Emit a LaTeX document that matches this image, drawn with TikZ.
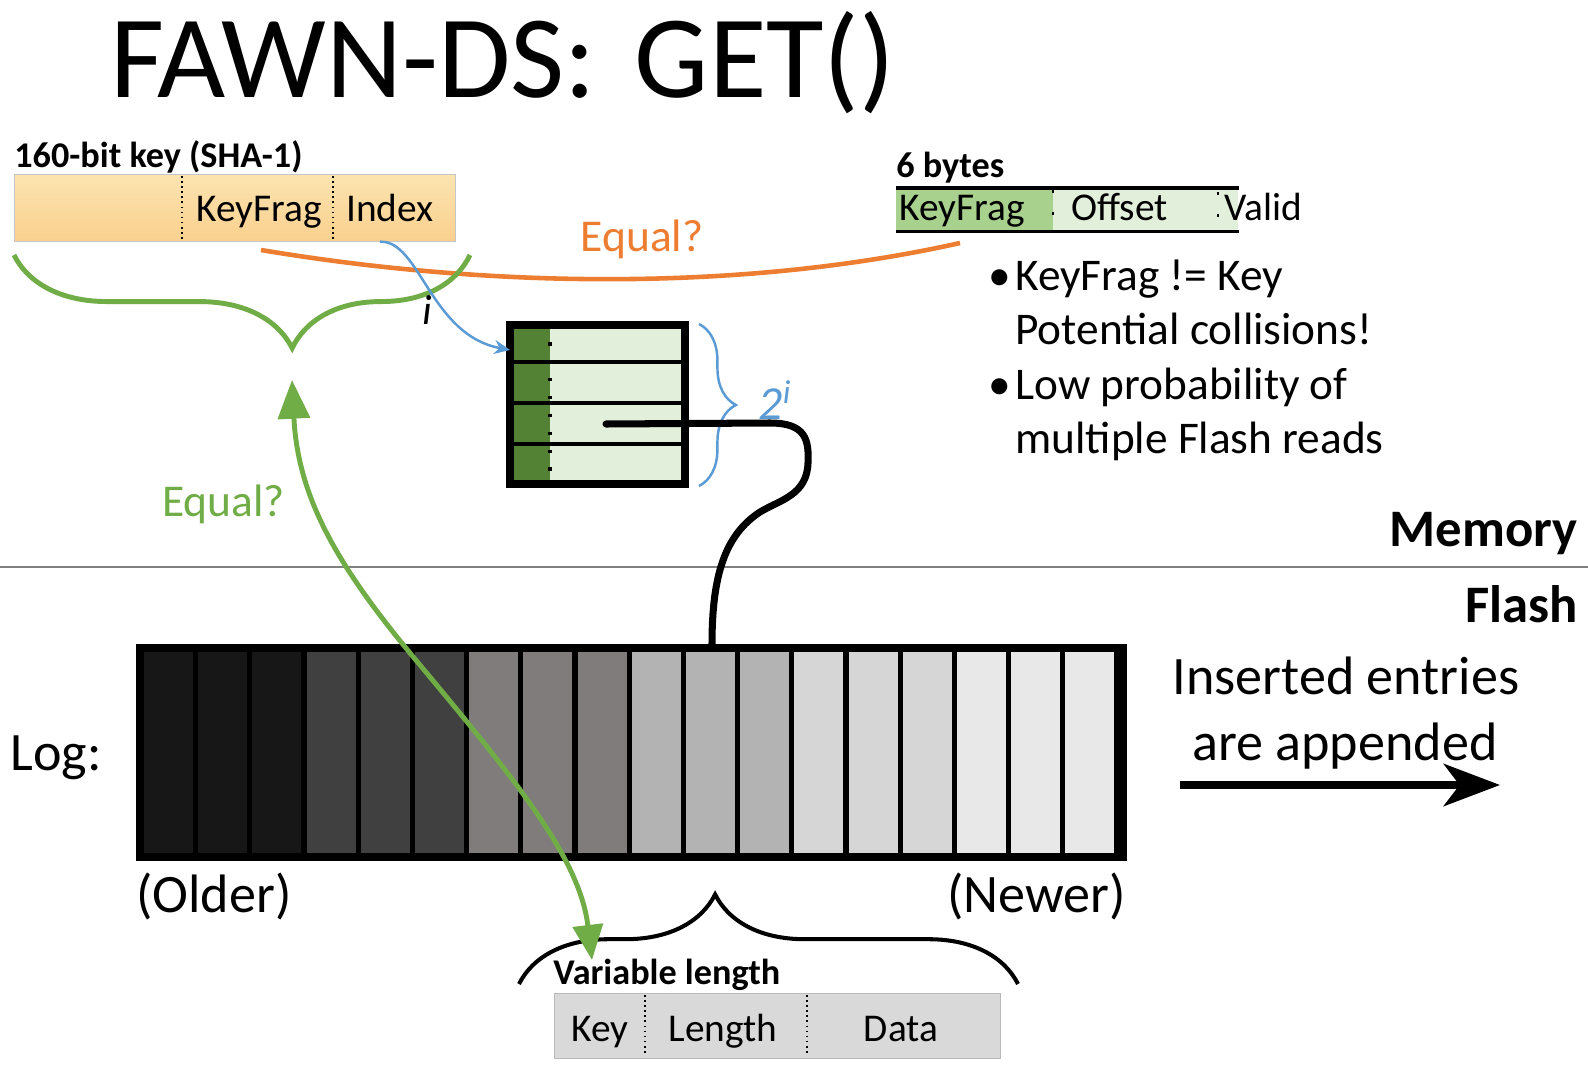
\documentclass[tikz,border=0pt]{standalone}
\usepackage{fontspec}
\setmainfont{Carlito}
\usetikzlibrary{positioning,arrows.meta,decorations.pathreplacing}
\definecolor{keytop}{RGB}{252,228,176}
\definecolor{keybot}{RGB}{249,208,142}
\definecolor{eqorange}{RGB}{237,125,49}
\definecolor{eqgreen}{RGB}{112,173,71}
\definecolor{idxblue}{RGB}{91,155,213}
\definecolor{fragdark}{RGB}{84,130,53}
\definecolor{fragmid}{RGB}{169,209,142}
\definecolor{fraglight}{RGB}{226,239,218}
\definecolor{recgray}{RGB}{217,217,217}
\definecolor{logc0}{RGB}{23,23,23}
\definecolor{logc1}{RGB}{64,64,64}
\definecolor{logc2}{RGB}{127,124,123}
\definecolor{logc3}{RGB}{180,179,180}
\definecolor{logc4}{RGB}{214,214,214}
\definecolor{logc5}{RGB}{232,232,232}

\begin{document}
\begin{tikzpicture}[
        x=0.02cm, y=-0.02cm,
        field/.style={font=\fontsize{22.4}{26}\selectfont, inner sep=0pt},
        hdr/.style={font=\fontsize{20.6}{24}\selectfont\bfseries, inner sep=0pt, anchor=base west},
        big/.style={font=\fontsize{30.8}{36}\selectfont, inner sep=0pt},
        bul/.style={font=\fontsize{25.8}{30}\selectfont, inner sep=0pt, anchor=base west},
        divider/.style={dotted, line width=0.9pt},
        cable/.style={line width=4pt, line cap=round}
    ]
        \useasboundingbox[fill=white] (0,0) rectangle (1588,1084);

        % Title
        \node[font=\fontsize{67}{80}\selectfont, inner sep=0pt, anchor=base west] (title) at (110,98) {FAWN-DS:\hspace{0.33em}GET()};

        % Key
        \node[hdr] (keyhdr) at (14,168) {160-bit key (SHA-1)};
        \node[draw=gray!45, top color=keytop, bottom color=keybot, minimum width=8.82cm, minimum height=1.34cm, inner sep=0pt, anchor=north west] (key) at (14,174) {};
        \draw[divider] (182,176) -- (182,240);
        \draw[divider] (333,176) -- (333,240);
        \node[field, anchor=base] (kfrag) at (259,222) {KeyFrag};
        \node[field, anchor=base] (kidx) at (390,222) {Index};

        % Hash entry format
        \node[hdr] (bytes) at (896,178) {6 bytes};
        \node[fill=fraglight, minimum width=6.84cm, minimum height=0.86cm, inner sep=0pt, anchor=north west] (entry) at (896,188) {};
        \fill[fragmid] (896,188) rectangle (1053,231);
        \draw[line width=1.8pt] (entry.north west) -- (entry.north east);
        \draw[line width=1.8pt] (entry.south west) -- (entry.south east);
        \draw[line width=1.6pt, dash pattern=on 1.6pt off 11pt] (1053,190) -- (1053,231);
        \draw[line width=1.6pt, dash pattern=on 1.6pt off 11pt] (1218,192) -- (1218,224);
        \node[field, anchor=base west] (efrag) at (899,221) {KeyFrag};
        \node[field, anchor=base west] (eoff) at (1071,221) {Offset};
        \node[field, anchor=base west] (evalid) at (1224,221) {Valid};

        % Orange compare
        \coordinate (cmpA) at (261,250);
        \coordinate (cmpB) at (960,243);
        \draw[eqorange, line width=2.6pt] (cmpA) .. controls (500,290) and (750,290) .. (cmpB);
        \node[text=eqorange, font=\fontsize{25.9}{30}\selectfont, inner sep=0pt, anchor=base] (eqtop) at (642,252) {Equal?};

        % Bullets
        \node[bul] (b1) at (988,291) {•};
        \node[bul] (l1) at (1015,291) {KeyFrag != Key};
        \node[bul] (l2) at (1015,344) {Potential collisions!};
        \node[bul] (b2) at (988,399) {•};
        \node[bul] (l3) at (1015,399) {Low probability of};
        \node[bul] (l4) at (1015,453) {multiple Flash reads};

        % Green brace under key
        \draw[eqgreen, line width=2.8pt, decorate, decoration={brace, amplitude=53pt, aspect=0.39}] (470,255) -- (14,255);
        \coordinate (bracetip) at (292,380);

        % Hash table
        \node[draw, line width=4.5pt, fill=fraglight, minimum width=3.5cm, minimum height=3.18cm, inner sep=0pt, outer sep=0pt, anchor=north west,
            path picture={\fill[fragdark] (path picture bounding box.north west) rectangle ([xshift=0.8cm]path picture bounding box.south west);}] (table) at (510,325) {};
        \foreach \y in {362,403,444}
            \draw[line width=2.3pt] (510,\y) -- (685,\y);
        \draw[line width=2pt, dash pattern=on 2pt off 8.2pt] (550,342) -- (550,478);
        \draw[idxblue, line width=1.4pt, decorate, decoration={brace, amplitude=21pt}] (699,324) -- (699,486);
        \node[text=idxblue, font=\fontsize{27}{30}\selectfont\itshape, inner sep=0pt] (pow) at (775,400) {2\textsuperscript{i}};

        % Index -> table
        \draw[idxblue, line width=1.4pt, -{Stealth[length=9pt, width=8pt]}] (key.south -| 380,0) .. controls (420,240) and (430,335) .. (table.north west |- 0,350);
        \node[font=\fontsize{24}{28}\selectfont\itshape, inner sep=0pt] (ilab) at (427,310) {i};

        % Memory / Flash
        \draw[gray, line width=1.2pt] (0,567) -- (1588,567);
        \node[font=\fontsize{30}{36}\selectfont\bfseries, inner sep=0pt, anchor=base east] (mem) at (1578,546) {Memory};
        \node[font=\fontsize{30}{36}\selectfont\bfseries, inner sep=0pt, anchor=base east] (flash) at (1578,622) {Flash};

        % Log
        \node[fill=black, minimum width=19.82cm, minimum height=4.34cm, inner sep=0pt, anchor=north west] (log) at (136,644) {};
        \foreach \i in {0,...,17} {
            \pgfmathtruncatemacro\g{\i/3}
            \pgfmathsetmacro\cx{144+\i*54.2}
            \fill[logc\g] (\cx,652) rectangle ++(49,201);
        }
        \node[big, anchor=base west] (loglab) at (10,770) {Log:};
        \node[big, anchor=base west] (older) at (136,912) {(Older)};
        \node[big, anchor=base east] (newer) at (1126,912) {(Newer)};
        \node[big, anchor=base] (ins1) at (1346,694) {Inserted entries};
        \node[big, anchor=base] (ins2) at (1345,760) {are appended};
        \coordinate (appS) at (1180,785);
        \coordinate (appE) at (1500,785);
        \draw[line width=4.5pt, -{Stealth[length=32pt, width=24pt, inset=9pt]}] (appS) -- (appE);

        % Table row -> log
        \draw[cable] (606,424) -- (770,423) .. controls (806,423) and (809,440) .. (808,463) .. controls (807,495) and (780,500) .. (760,512) .. controls (725,535) and (712,575) .. (log.north -| 712,0);

        % Record
        \draw[line width=2.3pt, decorate, decoration={brace, amplitude=51pt, aspect=0.393}] (519,984) -- (1018,984);
        \node[hdr] (varlen) at (553,984) {Variable length};
        \node[draw=gray!55, fill=recgray, minimum width=8.92cm, minimum height=1.3cm, inner sep=0pt, anchor=north west] (rec) at (554,993) {};
        \draw[divider] (645,995) -- (645,1056);
        \draw[divider] (807,995) -- (807,1056);
        \node[field, anchor=base] (rkey) at (600,1041) {Key};
        \node[field, anchor=base] (rlen) at (723,1041) {Length};
        \node[field, anchor=base] (rdata) at (901,1041) {Data};
        \coordinate (keytip) at (592,960);

        % Green compare
        \node[text=eqgreen, font=\fontsize{25.9}{30}\selectfont, inner sep=0pt, anchor=base west] (eqlow) at (162,516) {Equal?};
        \draw[eqgreen, line width=2.8pt, {Triangle[length=22pt, width=18pt]}-{Triangle[length=20pt, width=17pt]}] (bracetip) .. controls (298,500) and (340,570) .. (420,665) .. controls (520,785) and (580,860) .. (keytip);

\end{tikzpicture}
\end{document}
